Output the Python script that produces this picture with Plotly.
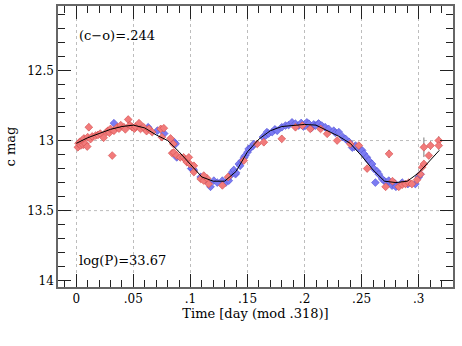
import plotly.graph_objects as go

# ---- data (phase in days, magnitude, error) ----
red_points = [
    (0.0014, 13.048, 0.022), (0.002, 13.020, 0.022), (0.003, 13.010, 0.022), (0.004, 13.035, 0.022),
    (0.005, 13.000, 0.022), (0.006, 13.030, 0.022), (0.0067, 12.985, 0.022), (0.008, 13.024, 0.022),
    (0.0096, 13.043, 0.022), (0.010, 12.976, 0.022), (0.011, 12.905, 0.025), (0.0125, 12.990, 0.022),
    (0.014, 12.970, 0.022), (0.017, 12.964, 0.022), (0.019, 12.960, 0.022), (0.021, 12.950, 0.022),
    (0.024, 12.980, 0.022), (0.0265, 12.940, 0.022), (0.0277, 12.930, 0.022), (0.029, 12.945, 0.022),
    (0.030, 12.917, 0.022), (0.0315, 13.107, 0.015), (0.033, 12.930, 0.022), (0.036, 12.905, 0.022),
    (0.0375, 12.915, 0.022), (0.039, 12.890, 0.022), (0.0417, 12.905, 0.022), (0.043, 12.920, 0.022),
    (0.0455, 12.850, 0.022), (0.047, 12.890, 0.022), (0.049, 12.905, 0.022), (0.051, 12.915, 0.022),
    (0.052, 12.900, 0.022), (0.055, 12.876, 0.022), (0.0563, 12.917, 0.022), (0.059, 12.905, 0.022),
    (0.0616, 12.933, 0.022), (0.0636, 12.917, 0.022), (0.0665, 12.940, 0.022), (0.074, 12.917, 0.022),
    (0.0767, 12.912, 0.022), (0.075, 12.976, 0.022), (0.0826, 12.985, 0.022), (0.085, 13.024, 0.022),
    (0.084, 13.090, 0.022), (0.0855, 13.085, 0.022), (0.088, 13.107, 0.022), (0.091, 13.120, 0.022),
    (0.094, 13.120, 0.022), (0.0957, 13.138, 0.022), (0.097, 13.155, 0.022), (0.0986, 13.120, 0.022),
    (0.0995, 13.167, 0.022), (0.103, 13.180, 0.022), (0.103, 13.225, 0.022), (0.109, 13.274, 0.022),
    (0.1117, 13.286, 0.022), (0.1146, 13.270, 0.022), (0.116, 13.310, 0.022), (0.1117, 13.250, 0.022),
    (0.128, 13.320, 0.022), (0.133, 13.260, 0.022),
    (0.1467, 13.143, 0.022), (0.1585, 13.024, 0.022), (0.1643, 13.012, 0.022), (0.180, 12.988, 0.025),
    (0.192, 12.905, 0.022), (0.198, 12.893, 0.022), (0.205, 12.917, 0.022), (0.214, 12.917, 0.022),
    (0.2198, 12.952, 0.022), (0.2285, 13.000, 0.022), (0.240, 13.024, 0.022), (0.2475, 13.036, 0.022),
    (0.2548, 13.200, 0.022), (0.274, 13.095, 0.030), (0.271, 13.330, 0.022), (0.277, 13.290, 0.022),
    (0.2825, 13.330, 0.022), (0.2855, 13.315, 0.022), (0.2884, 13.310, 0.022), (0.2913, 13.300, 0.022),
    (0.294, 13.310, 0.022), (0.2985, 13.280, 0.022), (0.3015, 13.240, 0.022), (0.303, 13.190, 0.022),
    (0.3045, 13.167, 0.022), (0.3045, 13.048, 0.070), (0.3103, 13.036, 0.030), (0.3088, 13.107, 0.025),
    (0.3175, 13.000, 0.030), (0.3175, 13.036, 0.030),
]

blue_points = [
    (0.033, 12.876, 0.022), (0.063, 12.905, 0.022), (0.071, 12.930, 0.022), (0.077, 12.950, 0.022),
    (0.086, 13.012, 0.022), (0.087, 13.024, 0.022), (0.088, 13.120, 0.022), (0.1007, 13.200, 0.022),
    (0.1016, 13.200, 0.022), (0.103, 13.210, 0.022), (0.109, 13.260, 0.022), (0.116, 13.300, 0.022),
    (0.1176, 13.330, 0.022), (0.1205, 13.286, 0.022), (0.1235, 13.300, 0.022), (0.128, 13.286, 0.022),
    (0.131, 13.300, 0.022), (0.1336, 13.286, 0.022), (0.135, 13.250, 0.022), (0.1366, 13.226, 0.022),
    (0.138, 13.210, 0.022), (0.1395, 13.240, 0.022), (0.140, 13.230, 0.022), (0.1424, 13.167, 0.022),
    (0.1435, 13.180, 0.022), (0.1453, 13.143, 0.022), (0.147, 13.120, 0.022), (0.148, 13.107, 0.022),
    (0.150, 13.083, 0.022), (0.151, 13.060, 0.022), (0.153, 13.050, 0.022), (0.1545, 13.040, 0.022),
    (0.1555, 13.024, 0.022), (0.1635, 12.975, 0.022), (0.166, 12.964, 0.022), (0.167, 12.940, 0.022),
    (0.1685, 12.950, 0.022), (0.1716, 12.940, 0.022), (0.174, 12.920, 0.022), (0.176, 12.930, 0.022),
    (0.180, 12.905, 0.022), (0.1833, 12.893, 0.022), (0.186, 12.890, 0.022), (0.189, 12.870, 0.022),
    (0.192, 12.880, 0.022), (0.195, 12.893, 0.022), (0.197, 12.875, 0.022), (0.199, 12.900, 0.022),
    (0.2008, 12.893, 0.022), (0.202, 12.870, 0.022), (0.2037, 12.880, 0.022), (0.206, 12.910, 0.022),
    (0.208, 12.885, 0.022), (0.2095, 12.893, 0.022), (0.212, 12.880, 0.022), (0.2125, 12.880, 0.022),
    (0.215, 12.893, 0.022), (0.218, 12.905, 0.022), (0.221, 12.917, 0.022), (0.2255, 12.930, 0.022),
    (0.227, 12.945, 0.022), (0.230, 12.940, 0.022), (0.2335, 12.975, 0.022), (0.2358, 12.988, 0.022),
    (0.239, 13.010, 0.022), (0.2417, 13.050, 0.022), (0.2435, 13.045, 0.022), (0.2446, 13.036, 0.022),
    (0.2475, 13.060, 0.022), (0.2504, 13.070, 0.022), (0.252, 13.095, 0.022), (0.2545, 13.120, 0.022),
    (0.2562, 13.143, 0.022), (0.2591, 13.167, 0.022), (0.2606, 13.200, 0.022), (0.262, 13.300, 0.022),
    (0.2635, 13.220, 0.022), (0.265, 13.240, 0.022), (0.268, 13.274, 0.022), (0.270, 13.290, 0.022),
    (0.272, 13.300, 0.022), (0.2737, 13.286, 0.022), (0.2766, 13.322, 0.022), (0.279, 13.305, 0.022),
    (0.280, 13.330, 0.022), (0.2855, 13.300, 0.022), (0.2905, 13.310, 0.022), (0.297, 13.310, 0.022),
    (0.300, 13.260, 0.022), (0.3015, 13.240, 0.022),
]

model_phase = [0.000, 0.010, 0.020, 0.030, 0.040, 0.050, 0.060, 0.070, 0.080, 0.090, 0.100,
               0.110, 0.120, 0.130, 0.140, 0.150, 0.160, 0.170, 0.180, 0.190, 0.200, 0.210,
               0.220, 0.230, 0.240, 0.250, 0.260, 0.270, 0.280, 0.290, 0.300, 0.310, 0.318]
model_mag = [13.02, 12.98, 12.95, 12.92, 12.90, 12.89, 12.91, 12.96, 13.00, 13.08, 13.17,
             13.26, 13.29, 13.29, 13.22, 13.08, 12.99, 12.93, 12.90, 12.89, 12.885, 12.89,
             12.93, 12.97, 13.02, 13.11, 13.21, 13.29, 13.30, 13.29, 13.23, 13.14, 13.07]

x_tickvals = [0, 0.05, 0.1, 0.15, 0.2, 0.25, 0.3]
x_ticktext = ["0", ".05", ".1", ".15", ".2", ".25", ".3"]
y_tickvals = [12.5, 13, 13.5, 14]
y_ticktext = ["12.5", "13", "13.5", "14"]
y_gridvals = [13, 13.5]

FONT = "DejaVu Serif"

def split(pts):
    return [p[0] for p in pts], [p[1] for p in pts], [p[2] for p in pts]

fig = go.Figure()

bx, by, be = split(blue_points)
fig.add_trace(go.Scatter(
    x=bx, y=by, mode="markers",
    error_y=dict(type="data", array=be, color="#7a7a7a", thickness=1, width=0),
    marker=dict(symbol="diamond", size=6, color="#7b7bf2", line=dict(color="#5252d6", width=0.6)),
    showlegend=False))

rx, ry, re_ = split(red_points)
fig.add_trace(go.Scatter(
    x=rx, y=ry, mode="markers",
    error_y=dict(type="data", array=re_, color="#7a7a7a", thickness=1, width=0),
    marker=dict(symbol="diamond", size=6, color="#f27b7b", line=dict(color="#d44c4c", width=0.6)),
    showlegend=False))

fig.add_trace(go.Scatter(x=model_phase, y=model_mag, mode="lines",
                         line=dict(color="black", width=1), showlegend=False))

for gv in y_gridvals:
    fig.add_shape(type="line", xref="paper", x0=0, x1=1, yref="y", y0=gv, y1=gv,
                  line=dict(color="#bdbdbd", width=1, dash="dot"), layer="below")

fig.add_annotation(x=0.0003, y=12.25, xref="x", yref="y", text="(c\u2212o)=.244",
                   showarrow=False, xanchor="left", font=dict(family=FONT, size=13, color="black"))
fig.add_annotation(x=0.0003, y=13.857, xref="x", yref="y", text="log(P)=33.67",
                   showarrow=False, xanchor="left", font=dict(family=FONT, size=13, color="black"))

axis_common = dict(
    showline=True, linecolor="#666666", linewidth=1.5, mirror="allticks",
    ticks="inside", tickcolor="#222222", tickwidth=1.3, ticklen=13,
    tickfont=dict(family=FONT, size=12, color="black"),
    zeroline=False, automargin=False,
)

fig.update_xaxes(
    range=[-0.016, 0.330], tickmode="array", tickvals=x_tickvals, ticktext=x_ticktext,
    showgrid=True, gridcolor="#bdbdbd", griddash="dot", gridwidth=1,
    minor=dict(dtick=0.01, tick0=0, ticks="inside", ticklen=7, tickcolor="#222222", tickwidth=1.1, showgrid=False),
    title=dict(text="Time [day (mod .318)]", font=dict(family=FONT, size=13, color="black"), standoff=4),
    **axis_common)
fig.update_yaxes(
    range=[14.045, 12.04], tickmode="array", tickvals=y_tickvals, ticktext=y_ticktext,
    showgrid=False,
    minor=dict(dtick=0.1, tick0=12, ticks="inside", ticklen=7, tickcolor="#222222", tickwidth=1.1, showgrid=False),
    title=dict(text="c mag", font=dict(family=FONT, size=13, color="black"), standoff=9),
    **axis_common)

fig.update_layout(
    width=462, height=346,
    margin=dict(l=58, r=9, t=6, b=59),
    paper_bgcolor="white", plot_bgcolor="white",
    font=dict(family=FONT, size=12, color="black"),
)

fig.write_html("out.html", config={"displayModeBar": False},
               post_script="document.body.style.margin='0px';")
